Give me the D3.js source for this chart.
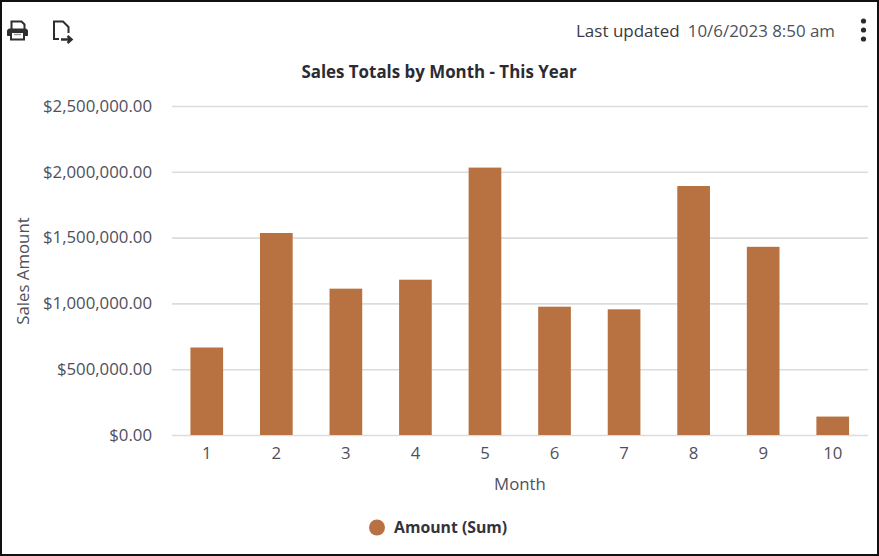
<!DOCTYPE html>
<html>
<head>
<meta charset="utf-8">
<script src="https://cdn.jsdelivr.net/npm/d3@7"></script>
<style>
    html, body { margin: 0; padding: 0; background: #fff; }
    svg { display: block; }
    text { font-family: "Open Sans", sans-serif; }
    .domain { display: none; }
    .tick line { display: none; }
</style>
</head>
<body>
<div id="wrapper"></div>
<script>
// values
const months = ['1', '2', '3', '4', '5', '6', '7', '8', '9', '10'];
const amounts = [665000, 1535000, 1112000, 1180000, 2032000, 975000, 955000, 1892000, 1430000, 140000];
const yTicks = [0, 500000, 1000000, 1500000, 2000000, 2500000];

const width = 879;
const height = 556;
const margin = { top: 106, right: 11, bottom: 121, left: 172 };
const barColor = '#b87242';
const textColor = '#50505a';
const fontSize = '16.8px';

const wrapper = d3.select('#wrapper').append('svg')
    .attr('width', width)
    .attr('height', height);

// frame
wrapper.append('rect')
    .attr('x', 1).attr('y', 1)
    .attr('width', width - 2).attr('height', height - 2)
    .attr('fill', '#fff')
    .attr('stroke', '#111')
    .attr('stroke-width', 2);

const xScale = d3.scaleBand()
    .domain(months)
    .range([margin.left, width - margin.right - 0.5])
    .paddingInner(0.53)
    .paddingOuter(0.265);

const yScale = d3.scaleLinear()
    .domain([0, 2500000])
    .range([height - margin.bottom, margin.top]);

const money = d => '$' + d3.format(',.2f')(d);

// y axis + gridlines
const yAxis = wrapper.append('g')
    .attr('transform', `translate(${margin.left}, 0)`)
    .call(d3.axisLeft(yScale).tickValues(yTicks).tickFormat(money).tickSize(0).tickPadding(20));

yAxis.selectAll('text')
    .attr('fill', textColor)
    .style('font-size', fontSize);

wrapper.append('g').selectAll('line').data(yTicks).enter().append('line')
    .attr('x1', margin.left)
    .attr('x2', width - margin.right)
    .attr('y1', d => yScale(d) + 0.5)
    .attr('y2', d => yScale(d) + 0.5)
    .attr('stroke', '#dcdcdc')
    .attr('stroke-width', 1.6);

// bars
wrapper.append('g').selectAll('rect').data(amounts).enter().append('rect')
    .attr('x', (d, i) => xScale(months[i]))
    .attr('y', d => yScale(d))
    .attr('width', xScale.bandwidth())
    .attr('height', d => yScale(0) - yScale(d))
    .attr('fill', barColor);

// x axis
const xAxis = wrapper.append('g')
    .attr('transform', `translate(0, ${height - margin.bottom})`)
    .call(d3.axisBottom(xScale).tickSize(0).tickPadding(12));

xAxis.selectAll('text')
    .attr('fill', textColor)
    .style('font-size', fontSize);

// titles
wrapper.append('text')
    .attr('x', 439).attr('y', 78)
    .attr('text-anchor', 'middle')
    .attr('fill', '#2b2b33')
    .style('font-size', '16.9px')
    .style('font-weight', 700)
    .text('Sales Totals by Month - This Year');

wrapper.append('text')
    .attr('x', 520).attr('y', 490)
    .attr('text-anchor', 'middle')
    .attr('fill', textColor)
    .style('font-size', fontSize)
    .text('Month');

wrapper.append('text')
    .attr('transform', 'translate(29, 271) rotate(-90)')
    .attr('text-anchor', 'middle')
    .attr('fill', textColor)
    .style('font-size', fontSize)
    .text('Sales Amount');

// legend
wrapper.append('circle')
    .attr('cx', 377).attr('cy', 527.5).attr('r', 8)
    .attr('fill', barColor);

wrapper.append('text')
    .attr('x', 394).attr('y', 533)
    .attr('fill', '#33333b')
    .style('font-size', '15.8px')
    .style('font-weight', 700)
    .text('Amount (Sum)');

// last updated
wrapper.append('text')
    .attr('x', 576).attr('y', 37)
    .attr('fill', '#3a3a44')
    .style('font-size', '17px')
    .style('font-weight', 500)
    .text('Last updated');

wrapper.append('text')
    .attr('x', 835).attr('y', 37)
    .attr('text-anchor', 'end')
    .attr('fill', textColor)
    .style('font-size', '16.9px')
    .text('10/6/2023 8:50 am');

// menu dots
wrapper.append('g').selectAll('circle').data([21, 30, 39]).enter().append('circle')
    .attr('cx', 863.5)
    .attr('cy', d => d)
    .attr('r', 2.6)
    .attr('fill', '#2b2b2b');

// print icon
const printer = wrapper.append('g').attr('fill', 'none').attr('stroke', '#2e2e2e');
printer.append('path')
    .attr('d', 'M11.5 29 V21.5 H21.5 L24.5 24.5 V29')
    .attr('stroke-width', 2);
printer.append('path')
    .attr('d', 'M9.5 29 H25.5 Q27.5 29 27.5 31 V35.5 H7.5 V31 Q7.5 29 9.5 29 Z')
    .attr('fill', '#2e2e2e')
    .attr('stroke-width', 1);
printer.append('rect')
    .attr('x', 11).attr('y', 32)
    .attr('width', 13).attr('height', 7.5)
    .attr('fill', '#fff')
    .attr('stroke-width', 2);
printer.append('line')
    .attr('x1', 14).attr('x2', 21).attr('y1', 34.5).attr('y2', 34.5)
    .attr('stroke', '#999').attr('stroke-width', 1.5);

// export icon
const exportIcon = wrapper.append('g').attr('fill', 'none').attr('stroke', '#2e2e2e').attr('stroke-width', 2);
exportIcon.append('path')
    .attr('d', 'M59 39 H54 V21.5 H63 L68.5 27 V33');
exportIcon.append('path')
    .attr('d', 'M61 39.5 H71 M67.5 36 L71.5 39.5 L67.5 43')
    .attr('stroke-width', 2.4);
</script>
</body>
</html>
